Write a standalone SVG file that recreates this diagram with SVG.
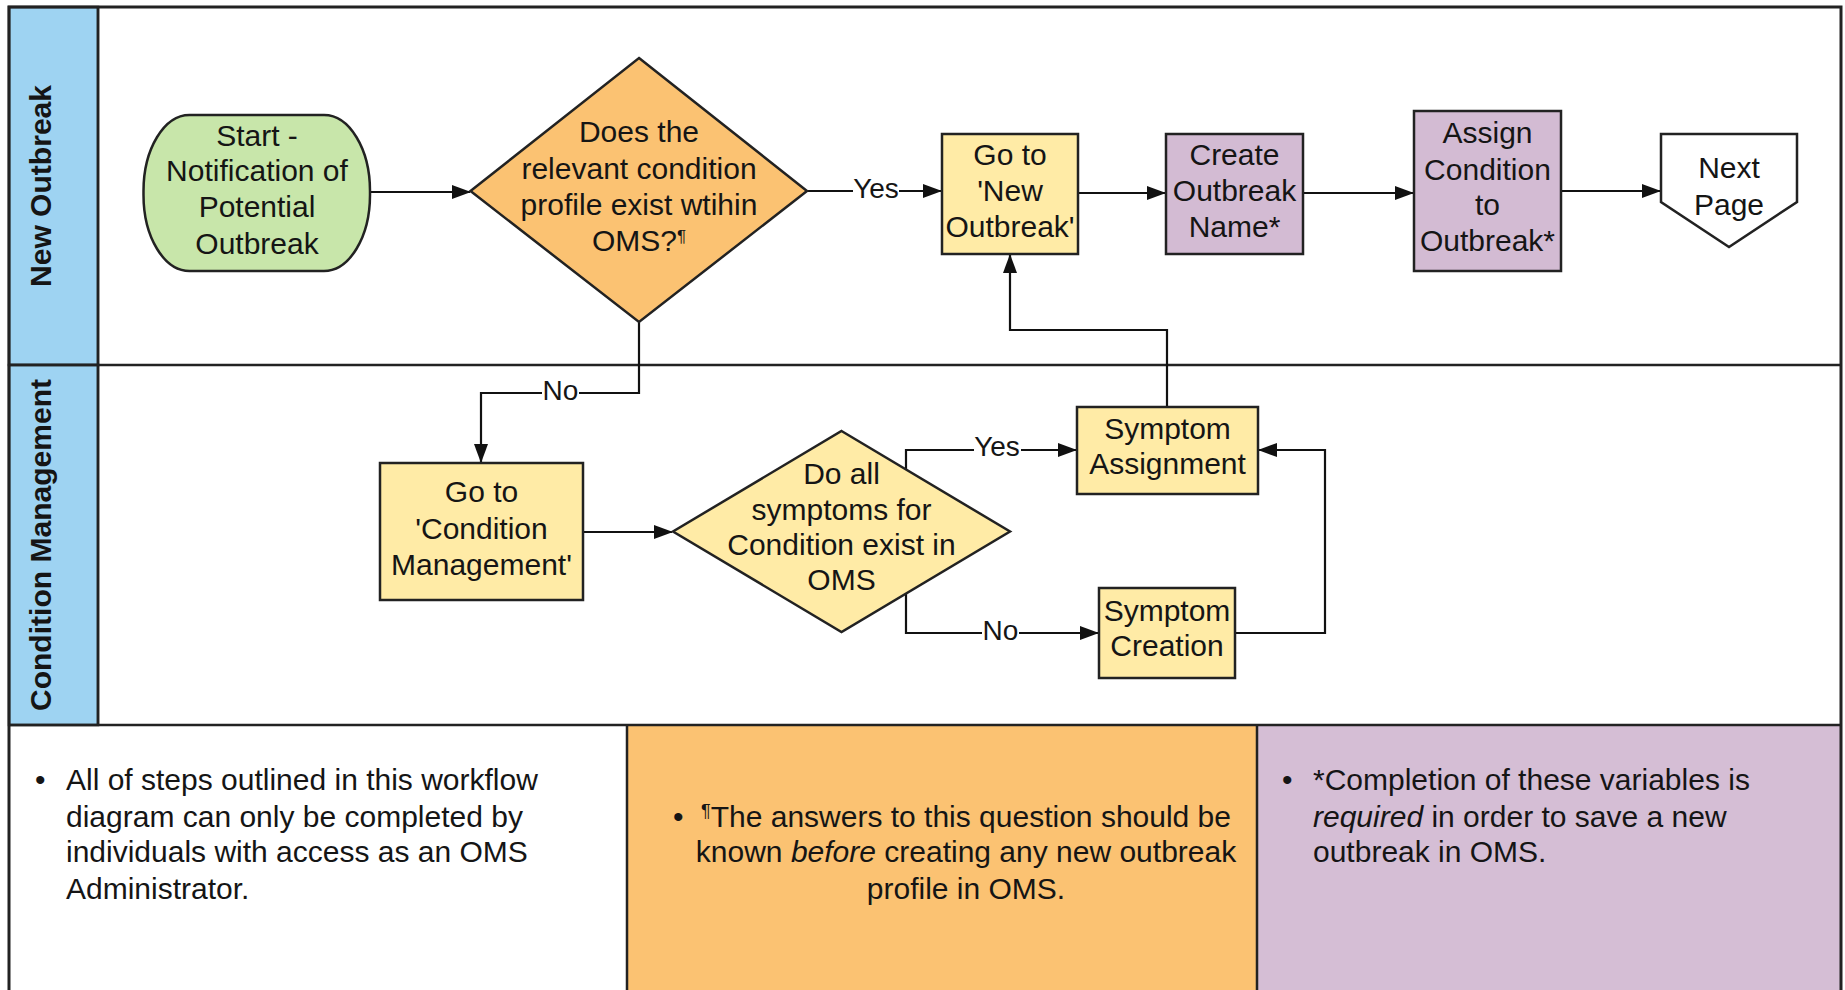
<svg xmlns="http://www.w3.org/2000/svg" width="1845" height="990" viewBox="0 0 1845 990">
  <defs>
    <marker id="arrow" markerUnits="userSpaceOnUse" markerWidth="19" markerHeight="14" viewBox="0 0 19 14" refX="18" refY="7" orient="auto">
      <path d="M0,0 L19,7 L0,14 z" fill="#111"/>
    </marker>
    <style>
      .lane { fill: #9ed3f2; stroke: #222; stroke-width: 2.5; }
      .frame { fill: none; stroke: #222; stroke-width: 3; }
      .div { stroke: #222; stroke-width: 2.5; fill: none; }
      .node { stroke: #222; stroke-width: 2.5; }
      .start { fill: #c8e6aa; }
      .decision { fill: #fbc272; }
      .step { fill: #ffeba6; }
      .req { fill: #d3bbd3; }
      .page { fill: #ffffff; }
      .t { font-family: "Liberation Sans", Arial, sans-serif; font-size: 30px; fill: #151515; text-anchor: middle; }
      .lanelabel { font-family: "Liberation Sans", Arial, sans-serif; font-size: 29px; font-weight: bold; fill: #151515; text-anchor: middle; }
      .lbl { font-family: "Liberation Sans", Arial, sans-serif; font-size: 28px; fill: #151515; text-anchor: middle; }
      .lblbg { fill: #ffffff; }
      .note { font-family: "Liberation Sans", Arial, sans-serif; font-size: 30px; fill: #151515; }
      .conn { fill: none; stroke: #111; stroke-width: 2.2; }
    </style>
  </defs>

  <rect x="0" y="0" width="1845" height="990" fill="#ffffff"/>

  <!-- swimlane frame -->
  <g id="lanes">
    <rect class="lane" x="9" y="7" width="89" height="358"/>
    <rect class="lane" x="9" y="365" width="89" height="360"/>
    <text class="lanelabel" transform="translate(51,186) rotate(-90)" textLength="202" lengthAdjust="spacingAndGlyphs">New Outbreak</text>
    <text class="lanelabel" transform="translate(51,545) rotate(-90)" textLength="332" lengthAdjust="spacingAndGlyphs">Condition Management</text>
  </g>

  <!-- notes row -->
  <g id="notes">
    <rect x="627" y="725" width="630" height="270" fill="#fbc272"/>
    <rect x="1257" y="725" width="584" height="270" fill="#d5bed5"/>
    <text class="note" x="35" y="790">•</text>
    <text class="note" x="66" y="790">All of steps outlined in this workflow</text>
    <text class="note" x="66" y="826.5">diagram can only be completed by</text>
    <text class="note" x="66" y="862">individuals with access as an OMS</text>
    <text class="note" x="66" y="898.5">Administrator.</text>

    <text class="note" x="673" y="826.5">•</text>
    <text class="note" x="966" y="826.5" text-anchor="middle"><tspan font-size="18" baseline-shift="super">¶</tspan>The answers to this question should be</text>
    <text class="note" x="966" y="862" text-anchor="middle">known <tspan font-style="italic">before</tspan> creating any new outbreak</text>
    <text class="note" x="966" y="898.5" text-anchor="middle">profile in OMS.</text>

    <text class="note" x="1282" y="790">•</text>
    <text class="note" x="1313" y="790">*Completion of these variables is</text>
    <text class="note" x="1313" y="826.5"><tspan font-style="italic">required</tspan> in order to save a new</text>
    <text class="note" x="1313" y="862">outbreak in OMS.</text>
  </g>

  <!-- grid lines -->
  <g id="grid">
    <path class="frame" d="M9,995 L9,7 L1841,7 L1841,995"/>
    <line class="div" x1="98" y1="7" x2="98" y2="725"/>
    <line class="div" x1="9" y1="365" x2="1841" y2="365"/>
    <line class="div" x1="9" y1="725" x2="1841" y2="725"/>
    <line class="div" x1="627" y1="725" x2="627" y2="995"/>
    <line class="div" x1="1257" y1="725" x2="1257" y2="995"/>
  </g>

  <!-- connectors -->
  <g id="connectors">
    <path class="conn" d="M370,192 L470,192" marker-end="url(#arrow)"/>
    <path class="conn" d="M807,191 L941,191" marker-end="url(#arrow)"/>
    <path class="conn" d="M1078,193 L1165,193" marker-end="url(#arrow)"/>
    <path class="conn" d="M1303,193 L1413,193" marker-end="url(#arrow)"/>
    <path class="conn" d="M1561,191 L1660,191" marker-end="url(#arrow)"/>
    <path class="conn" d="M639,322 L639,393 L481,393 L481,462" marker-end="url(#arrow)"/>
    <path class="conn" d="M583,532 L672,532" marker-end="url(#arrow)"/>
    <path class="conn" d="M906,469 L906,450 L1076,450" marker-end="url(#arrow)"/>
    <path class="conn" d="M906,594 L906,633 L1098,633" marker-end="url(#arrow)"/>
    <path class="conn" d="M1235,633 L1325,633 L1325,450 L1259,450" marker-end="url(#arrow)"/>
    <path class="conn" d="M1167,407 L1167,330 L1010,330 L1010,255" marker-end="url(#arrow)"/>

    <rect class="lblbg" x="853" y="176" width="46" height="28"/>
    <text class="lbl" x="876" y="198">Yes</text>
    <rect class="lblbg" x="542" y="379" width="37" height="28"/>
    <text class="lbl" x="560.5" y="399.5">No</text>
    <rect class="lblbg" x="974" y="436" width="47" height="28"/>
    <text class="lbl" x="997" y="456">Yes</text>
    <rect class="lblbg" x="982" y="619" width="37" height="28"/>
    <text class="lbl" x="1000.5" y="639.5">No</text>
  </g>

  <!-- nodes -->
  <g id="start">
    <rect class="node start" x="143.5" y="115" width="226.5" height="156" rx="46" ry="76"/>
    <text class="t" x="257" y="145.5">Start -</text>
    <text class="t" x="257" y="181">Notification of</text>
    <text class="t" x="257" y="217">Potential</text>
    <text class="t" x="257" y="253.5">Outbreak</text>
  </g>

  <g id="profile-exists">
    <polygon class="node decision" points="639,58 807,191 639,322 470.5,191"/>
    <text class="t" x="639" y="142">Does the</text>
    <text class="t" x="639" y="178.5">relevant condition</text>
    <text class="t" x="639" y="214.5">profile exist wtihin</text>
    <text class="t" x="639" y="250.5">OMS?<tspan font-size="17" baseline-shift="super">¶</tspan></text>
  </g>

  <g id="go-new-outbreak">
    <rect class="node step" x="942" y="134" width="136" height="120"/>
    <text class="t" x="1010" y="164.5">Go to</text>
    <text class="t" x="1010" y="201">'New</text>
    <text class="t" x="1010" y="237">Outbreak'</text>
  </g>

  <g id="create-name">
    <rect class="node req" x="1166" y="134" width="137" height="120"/>
    <text class="t" x="1234.5" y="164.5">Create</text>
    <text class="t" x="1234.5" y="201">Outbreak</text>
    <text class="t" x="1234.5" y="237">Name*</text>
  </g>

  <g id="assign-condition">
    <rect class="node req" x="1414" y="111" width="147" height="160"/>
    <text class="t" x="1487.5" y="143">Assign</text>
    <text class="t" x="1487.5" y="179.5">Condition</text>
    <text class="t" x="1487.5" y="215">to</text>
    <text class="t" x="1487.5" y="251">Outbreak*</text>
  </g>

  <g id="next-page">
    <polygon class="node page" points="1661,134 1797,134 1797,202 1729,247 1661,202"/>
    <text class="t" x="1729" y="178">Next</text>
    <text class="t" x="1729" y="215">Page</text>
  </g>

  <g id="go-condition-mgmt">
    <rect class="node step" x="380" y="463" width="203" height="137"/>
    <text class="t" x="481.5" y="502">Go to</text>
    <text class="t" x="481.5" y="538.5">'Condition</text>
    <text class="t" x="481.5" y="575">Management'</text>
  </g>

  <g id="symptoms-exist">
    <polygon class="node step" points="841.5,431 1010,531.5 841.5,632 673,531.5"/>
    <text class="t" x="841.5" y="484">Do all</text>
    <text class="t" x="841.5" y="519.5">symptoms for</text>
    <text class="t" x="841.5" y="555">Condition exist in</text>
    <text class="t" x="841.5" y="590">OMS</text>
  </g>

  <g id="symptom-assignment">
    <rect class="node step" x="1077" y="407" width="181" height="87"/>
    <text class="t" x="1167.5" y="438.5">Symptom</text>
    <text class="t" x="1167.5" y="474">Assignment</text>
  </g>

  <g id="symptom-creation">
    <rect class="node step" x="1099" y="588" width="136" height="90"/>
    <text class="t" x="1167" y="621">Symptom</text>
    <text class="t" x="1167" y="656">Creation</text>
  </g>
</svg>
